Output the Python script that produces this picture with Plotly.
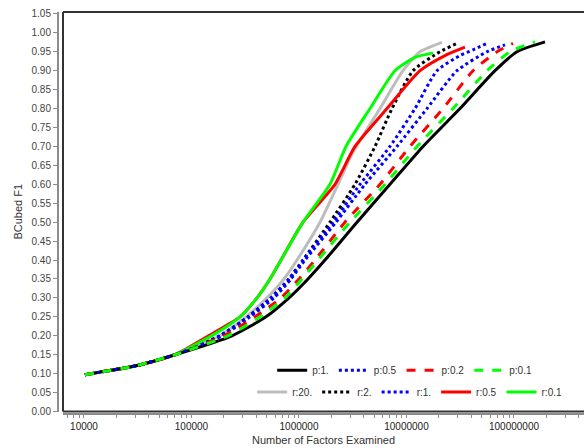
import plotly.graph_objects as go

# shared start of every curve (x = factors examined, y = BCubed F1)
x_start = [10200, 14100, 29800, 70200]
y_start = [0.097, 0.104, 0.120, 0.150]

y_levels = [0.20, 0.25, 0.30, 0.35, 0.40, 0.50, 0.60, 0.70, 0.80, 0.90]

# p series
x_p1 = [238100, 493200, 807200, 1212000, 1745000, 3463000, 7023000, 14240000, 31460000, 66580000, 106600000, 194300000]
y_p1 = y_levels + [0.95, 0.976]
x_p05 = [192200, 350200, 585400, 842400, 1137000, 2210000, 4112000, 8157000, 15510000, 29500000, 56090000, 82490000]
y_p05 = y_levels + [0.95, 0.968]
x_p02 = [200600, 389700, 680200, 1000000, 1409000, 2679000, 5669000, 10780000, 21850000, 41560000, 69500000, 97880000]
y_p02 = y_levels + [0.95, 0.972]
x_p01 = [218500, 433800, 741100, 1066000, 1502000, 2982000, 6310000, 12530000, 27080000, 56090000, 91800000, 156800000]
y_p01 = y_levels + [0.95, 0.976]

# r series
x_r20 = [184100, 321400, 504000, 725300, 958000, 1568000, 2306000, 3112000, 5669000, 9278000, 13360000, 21390000]
y_r20 = [0.20, 0.25, 0.30, 0.35, 0.40, 0.50, 0.60, 0.68, 0.80, 0.90, 0.95, 0.975]
x_r2 = [184100, 335500, 549000, 807200, 1090000, 1943000, 3319000, 5093000, 7330000, 11500000, 20490000, 29500000]
y_r2 = y_levels + [0.95, 0.972]
x_r1 = [184100, 335500, 549000, 807200, 1090000, 2072000, 3694000, 7023000, 12000000, 19220000, 31460000, 41560000, 56090000]
y_r1 = y_levels + [0.94, 0.955, 0.972]
x_r05 = [165500, 282600, 406800, 537300, 680200, 1090000, 2162000, 3319000, 6586000, 13360000, 22810000, 35010000]
y_r05 = [0.21, 0.25, 0.30, 0.35, 0.40, 0.50, 0.60, 0.70, 0.80, 0.90, 0.94, 0.962]
x_r01 = [165500, 282600, 406800, 537300, 680200, 1090000, 1943000, 2737000, 4576000, 7816000, 12000000, 17640000]
y_r01 = [0.205, 0.25, 0.30, 0.35, 0.40, 0.50, 0.60, 0.70, 0.80, 0.90, 0.935, 0.947]

x_tick_vals = [10000, 100000, 1000000, 10000000, 100000000]
x_tick_text = ["10000", "100000", "1000000", "10000000", "100000000"]
y_tick_vals = [i * 0.05 for i in range(22)]
y_tick_text = ["%.2f" % v for v in y_tick_vals]

series = [
    # name, x, y, color, dash, legend
    ("r:20.", x_r20, y_r20, "#bdbdbd", "solid", "legend2"),
    ("r:2.", x_r2, y_r2, "#000000", "dot", "legend2"),
    ("r:1.", x_r1, y_r1, "#0000ff", "dot", "legend2"),
    ("r:0.5", x_r05, y_r05, "#ff0000", "solid", "legend2"),
    ("r:0.1", x_r01, y_r01, "#00ff00", "solid", "legend2"),
    ("p:1.", x_p1, y_p1, "#000000", "solid", "legend"),
    ("p:0.5", x_p05, y_p05, "#0000ff", "dot", "legend"),
    ("p:0.2", x_p02, y_p02, "#ff0000", "dash", "legend"),
    ("p:0.1", x_p01, y_p01, "#00ff00", "dash", "legend"),
]

fig = go.Figure()
for name, xs, ys, color, dash, lg in series:
    fig.add_trace(go.Scatter(
        x=x_start + xs, y=y_start + ys, mode="lines", name=name,
        line=dict(color=color, width=3, dash=dash, shape="spline", smoothing=0.6),
        legend=lg,
    ))

font_family = "Liberation Sans, Arial, sans-serif"
axis_col = "#8c8c8c"

fig.update_layout(
    width=584, height=448,
    margin=dict(l=58, r=0, t=12, b=34),
    paper_bgcolor="white", plot_bgcolor="white",
    font=dict(family=font_family, size=10, color="#333333"),
    xaxis=dict(
        type="log", range=[3.8047, 8.6512], domain=[0.0095, 1],
        anchor="free", position=0,
        showgrid=False, zeroline=False,
        showline=True, linecolor=axis_col, linewidth=2,
        ticks="outside", ticklen=3, tickcolor=axis_col, tickwidth=1,
        tickmode="array", tickvals=x_tick_vals, ticktext=x_tick_text,
        tickfont=dict(size=10, color="#222222"),
        minor=dict(ticks="outside", ticklen=3, tickcolor=axis_col, dtick="D1", showgrid=False),
        title=dict(text="Number of Factors Examined", font=dict(size=11, color="#333333"), standoff=4),
    ),
    yaxis=dict(
        range=[0, 1.055], domain=[0.0062, 1],
        anchor="free", position=0,
        showgrid=False, zeroline=False,
        showline=True, linecolor=axis_col, linewidth=2,
        ticks="outside", ticklen=4, tickcolor=axis_col, tickwidth=1,
        tickmode="array", tickvals=y_tick_vals, ticktext=y_tick_text,
        tickfont=dict(size=10, color="#444444"),
        title=dict(text="BCubed F1", font=dict(size=11, color="#333333"), standoff=6),
    ),
    legend=dict(orientation="h", x=0.911, y=0.109, xanchor="right", yanchor="middle",
                bgcolor="rgba(0,0,0,0)", font=dict(size=10, color="#333333"),
                itemwidth=30, tracegroupgap=0),
    legend2=dict(orientation="h", x=0.968, y=0.055, xanchor="right", yanchor="middle",
                 bgcolor="rgba(0,0,0,0)", font=dict(size=10, color="#333333"),
                 itemwidth=30, tracegroupgap=0),
    shapes=[
        dict(type="line", xref="x domain", yref="y domain", x0=0, x1=0, y0=0, y1=1,
             line=dict(color="#333333", width=2)),
        dict(type="line", xref="x domain", yref="y domain", x0=0, x1=1, y0=1, y1=1,
             line=dict(color="#333333", width=2)),
        dict(type="line", xref="x domain", yref="y domain", x0=0, x1=1, y0=0, y1=0,
             line=dict(color="#333333", width=2)),
    ],
)

fig.write_html("out.html")
